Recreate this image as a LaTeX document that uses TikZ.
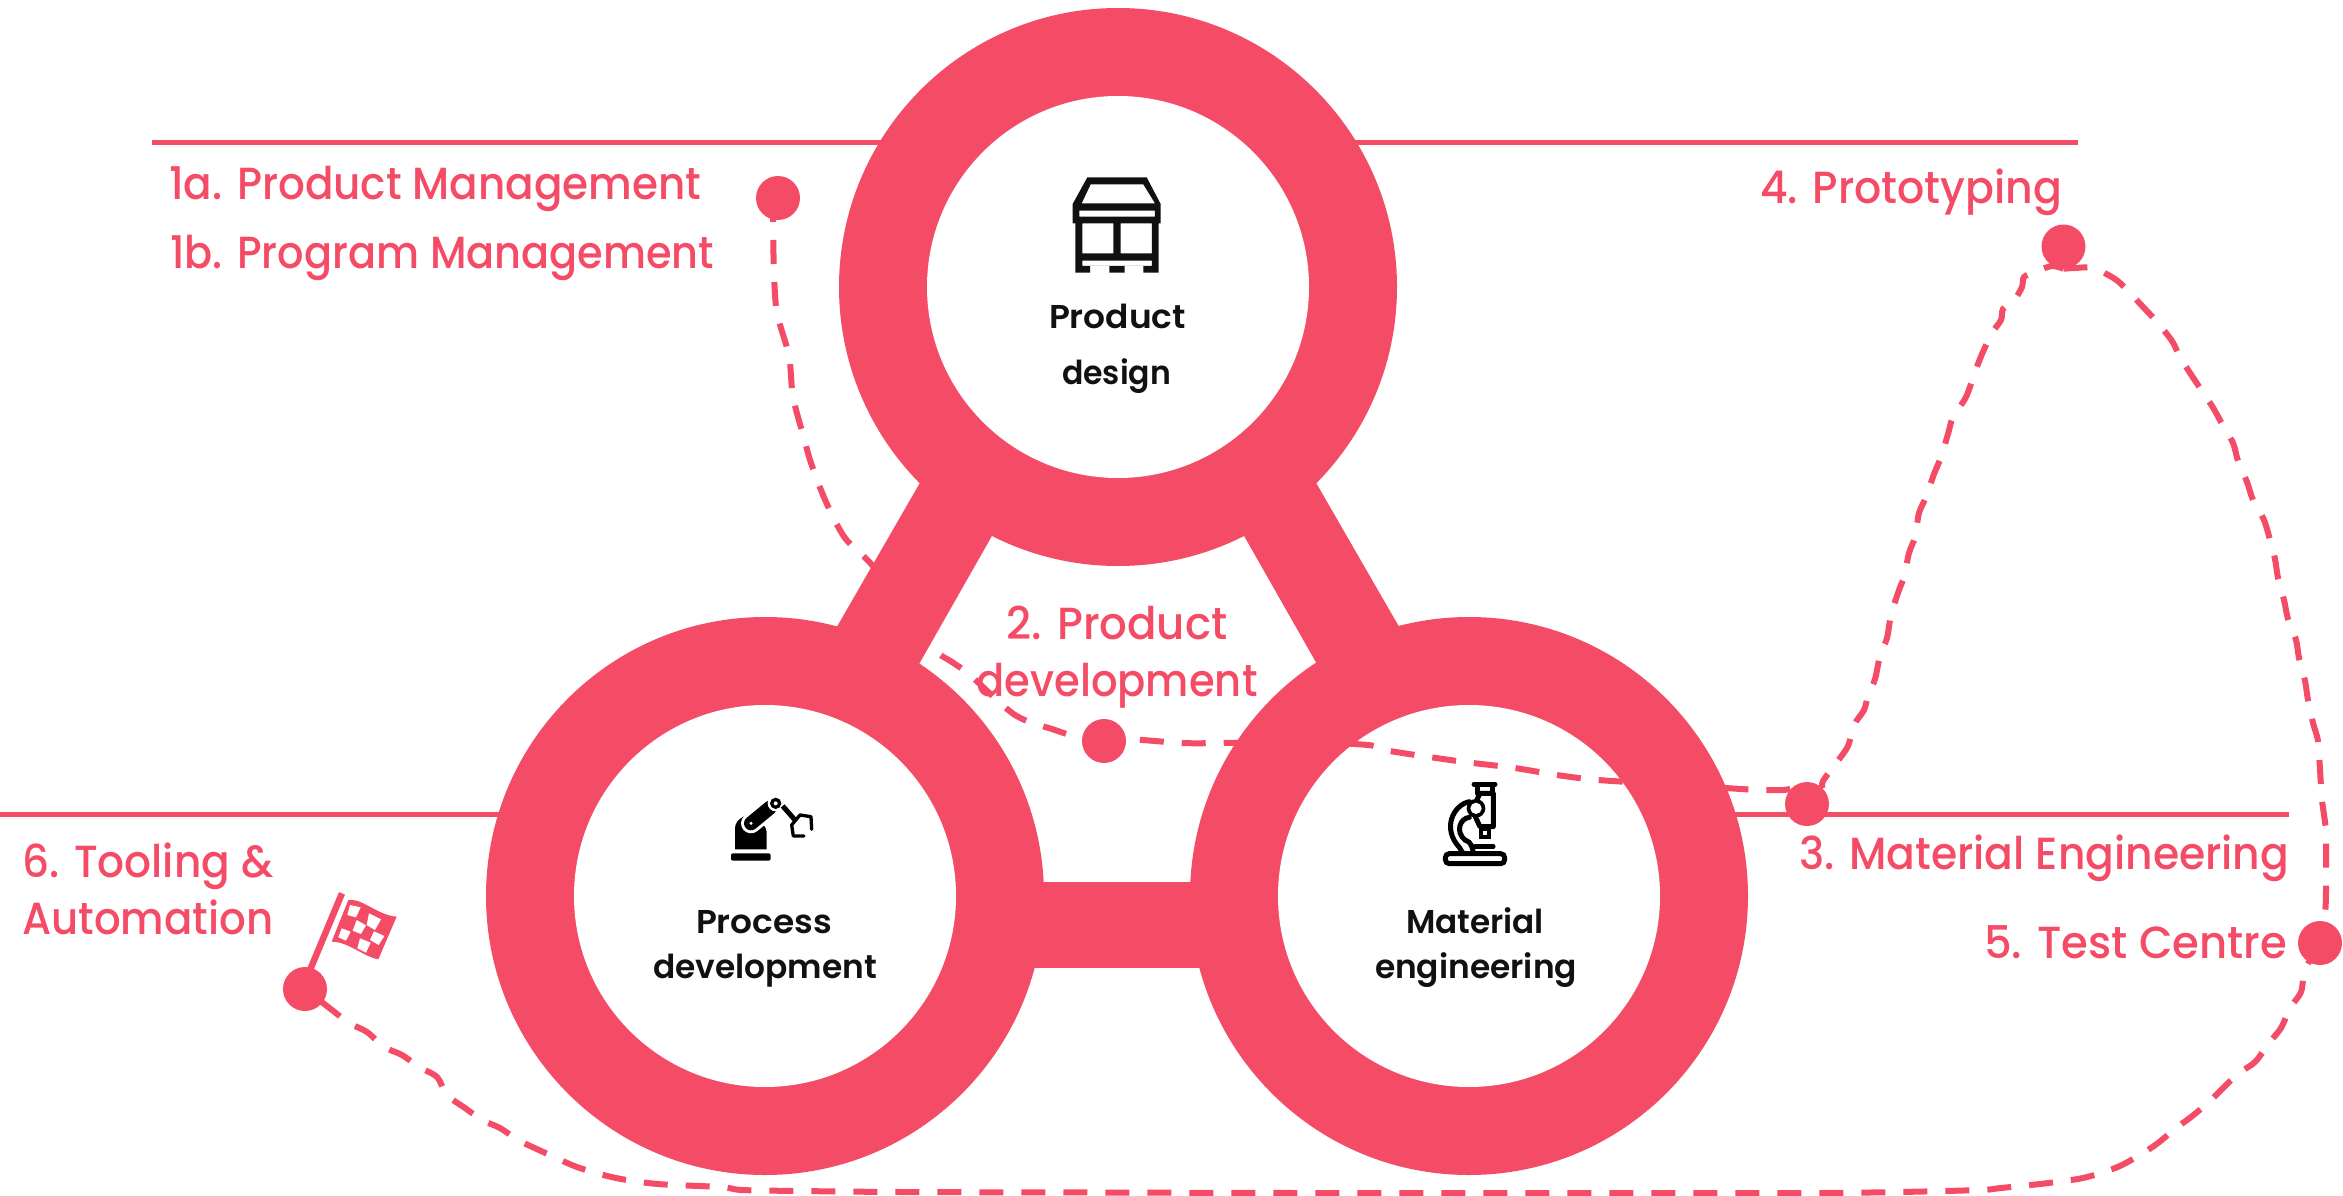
\documentclass[tikz,border=0pt]{standalone}
\usepackage{fontspec}
\usepackage{graphicx}
\setmainfont{Poppins Medium}
\newfontfamily\medf{Poppins SemiBold}
\definecolor{pk}{HTML}{F44C66}
\definecolor{ink}{HTML}{111111}
\newsavebox{\fitbox}
\newcommand\fitw[2]{\sbox{\fitbox}{#2}\pgfmathsetmacro\fitr{#1/\the\wd\fitbox}\scalebox{\fitr}[1]{\usebox{\fitbox}}}
\newcommand\lbl[1]{\fontsize{45}{45}\selectfont #1}
\newcommand\blk[1]{\fontsize{33}{33}\selectfont\medf #1}
\tikzset{
  ringo/.style={circle,fill=pk,minimum size=558pt,inner sep=0pt},
  ringi/.style={circle,fill=white,minimum size=382pt,inner sep=0pt},
  dotn/.style={circle,fill=pk,minimum size=44pt,inner sep=0pt},
  hline/.style={draw=pk,line width=5pt},
  dashp/.style={draw=pk,line width=6pt,dash pattern=on 24pt off 18pt},
  tl/.style={text=pk,inner sep=0pt,anchor=base west},
  tc/.style={text=pk,inner sep=0pt,anchor=base},
  tk/.style={text=ink,inner sep=0pt,anchor=base},
  ic/.style={shift={#1},x=0.3333pt,y=-0.3333pt},
}
\begin{document}
\begin{tikzpicture}[x=1pt,y=-1pt]
\useasboundingbox (0,0) rectangle (2343,1196);
\fill[white] (0,0) rectangle (2343,1196);
% rings (outer discs named first)
\node[ringo] (ot) at (1118,287) {};
\node[ringo] (ol) at (765,896) {};
\node[ringo] (or) at (1469,896) {};
% horizontal rules
\coordinate (a1) at (152,143); \coordinate (a2) at (2078,143);
\coordinate (b1) at (0,814); \coordinate (b2) at (2289,814);
\draw[hline] (a1) -- (a2);
\draw[hline] (b1) -- (b1 -| ol);
\draw[hline] (b1 -| or) -- (b2);
% bars
\fill[pk] (940,448) -- (827,644) -- (910,680) -- (1001,520) -- cycle;
\fill[pk] (1296,448) -- (1409,644) -- (1326,680) -- (1235,520) -- cycle;
\fill[pk] (950,881.5) rectangle (1290,968);
\node[ringi] (it) at (1118,287) {};
\node[ringi] (il) at (765,896) {};
\node[ringi] (ir) at (1469,896) {};
% store icon
\begin{scope}[ic={(1000pt,-140pt)},even odd rule]
\fill[ink] (262,112) -- (440,112) -- (482,192) -- (482,250) -- (476,250) -- (476,398) -- (430,398) -- (430,378) -- (374,378) -- (374,398) -- (328,398) -- (328,378) -- (270,378) -- (270,398) -- (226,398) -- (226,250) -- (218,250) -- (218,192) -- cycle
 (272,133) -- (430,133) -- (465,190) -- (245,190) -- cycle
 (238,212) rectangle (465,230)
 (247,250) rectangle (340,340)
 (362,250) rectangle (456,340)
 (247,362) rectangle (456,378);
\end{scope}
% robot icon
\begin{scope}[ic={(680pt,-760pt)}]
\fill[black,rounded corners=2pt] (153,302) -- (153,280) -- (272,280) -- (272,302) -- cycle;
\fill[black] (165,268) -- (165,205) .. controls (165,190) and (175,178) .. (190,170) -- (245,190) .. controls (255,200) and (260,205) .. (260,215) -- (260,268) -- cycle;
\draw[white,line width=20pt,line cap=round] (213,190) -- (270,143);
\draw[black,line width=14pt,line cap=round] (213,190) -- (270,143);
\fill[white] (287,130) circle (24);
\fill[black] (287,130) circle (17);
\fill[white] (287,130) circle (6);
\fill[white] (213,190) circle (5);
\draw[black,line width=5pt] (308,138) -- (345,180);
\draw[black,line width=3.3pt,line cap=round,line join=round] (395,208) -- (393,170) -- (360,165) -- (335,195) -- (340,228) -- (372,228);
\end{scope}
% microscope icon
\begin{scope}[ic={(1400pt,-760pt)}]
\draw[black,line width=5pt,line cap=round] (222,73) -- (285,73);
\draw[black,line width=4.5pt,line join=round] (232,80) -- (232,100) -- (277,100) -- (277,80);
\draw[black,line width=5pt,line cap=round] (208,125) .. controls (160,135) and (125,205) .. (178,262) -- (190,282);
\draw[black,line width=5pt,line cap=round] (208,172) .. controls (180,175) and (165,215) .. (195,240) .. controls (215,245) and (218,265) .. (220,282);
\draw[black,line width=5pt,line join=round,fill=white] (240,100) -- (280,100) -- (280,200) -- (240,200) -- (226,170) -- (226,130) -- cycle;
\fill[black] (228,145) circle (28);
\fill[white] (228,145) circle (17);
\draw[black,line width=4pt,fill=white] (244,207) rectangle (268,232);
\draw[black,line width=4.5pt,line cap=round] (225,260) -- (280,260);
\draw[black,line width=5pt,fill=white,rounded corners=4pt] (136,281) rectangle (314,311);
\end{scope}
% flag icon
\begin{scope}[ic={(260pt,-860pt)}]
\fill[pk] (265,120) .. controls (310,115) and (350,165) .. (410,170) -- (355,298) .. controls (310,290) and (265,245) .. (215,245) -- cycle;
\fill[white] (270,135) -- (302,142) -- (288,172) -- (262,165) -- cycle
 (327,160) -- (363,178) -- (345,210) -- (320,195) -- cycle
 (290,180) -- (318,196) -- (303,222) -- (278,212) -- cycle
 (342,214) -- (373,228) -- (356,255) -- (330,240) -- cycle
 (245,205) -- (272,215) -- (258,242) -- (235,232) -- cycle
 (300,235) -- (332,248) -- (318,278) -- (292,265) -- cycle;
\draw[pk,line width=6.5pt] (246,100) -- (150,330);
\end{scope}
% dots (named first so the paths can refer to them)
\node[dotn,fill=none] (d1) at (778,198) {};
\node[dotn,fill=none] (d2) at (1104,741) {};
\node[dotn,fill=none] (d3) at (1807,804) {};
\node[dotn,fill=none] (d4) at (2063.5,246.5) {};
\node[dotn,fill=none] (d5) at (2320,943) {};
\node[dotn,fill=none] (d6) at (305,989) {};
% route
\draw[dashp] plot[smooth,tension=0.5] coordinates {(773,198) (773,220) (774,273) (777,313) (789,356) (793,397) (804,438) (811,463) (826,502) (845,538) (872,565) (905,610) (935,650) (952,662) (970,675) (1015,715) (1055,730) (1080,738) (d2.center)};
\draw[dashp,dash phase=6pt] plot[smooth,tension=0.5] coordinates {(d2.center) (1127,739) (1182,743) (1223,743) (1300,742) (1368,745) (1390,751) (1450,760) (1473,763) (1515,768) (1557,775) (1598,780) (1680,785) (1741,789) (1766,790) (1784,790) (d3.north west)};
\draw[dashp,dash phase=8pt] plot[smooth,tension=0.5] coordinates {(d3.north east) (1823,781) (1837,762) (1848,746) (1854,725) (1864,710) (1868,696) (1875,679) (1880,656) (1887,638) (1891,615) (1899,590) (1904,577) (1909,553) (1915,537) (1919,513) (1926,497) (1934,474) (1941,457) (1948,434) (1953,417) (1966,397) (1975,372) (1982,354) (1992,333) (2001,320) (2003,309) (2013,302) (2022,287) (2024,277) (2037,271) (2052,266) (d4.south)};
\draw[dashp,dash phase=0pt] plot[smooth,tension=0.5] coordinates {(d4.south) (2075,268) (2093,268) (2115,279) (2128,291) (2145,309) (2157,322) (2172,341) (2180,357) (2192,376) (2212,406) (2221,422) (2233,443) (2238,461) (2247,482) (2253,500) (2264,520) (2270,540) (2275,559) (2278,578) (2284,600) (2288,619) (2296,640) (2299,658) (2305,681) (2308,700) (2313,723) (2318,741) (2320,770) (2322,800) (2326,831) (2326,860) (2326,892) (2325,913) (d5.center)};
\draw[dashp] plot[smooth,tension=0.5] coordinates {(d5.center) (2305,970) (2301,992) (2290,1008) (2281,1028) (2269,1043) (2255,1062) (2239,1073) (2223,1088) (2209,1102) (2191,1117) (2176,1128) (2158,1143) (2143,1153) (2122,1165) (2104,1172) (2083,1178) (2064,1181) (2040,1184) (2001,1188) (1980,1190) (1900,1192) (1821,1193) (1700,1193) (1500,1193) (1300,1193) (1100,1192.5) (900,1192) (800,1191) (742,1190) (721,1187) (658,1184) (616,1178) (577,1167) (539,1150) (518,1140) (500,1128) (482,1120) (465,1108) (447,1095) (437,1077) (419,1067) (402,1055) (384,1047) (367,1032) (349,1023) (332,1010) (d6.center)};
% dots
\foreach \n in {d1,d2,d3,d4,d5,d6} \fill[pk] (\n.center) circle (22pt);
% pink labels
\node[tl] (t1a) at (169,200) {\fitw{532}{\lbl{1a. Product Management}}};
\node[tl] (t1b) at (170,268) {\fitw{544}{\lbl{1b. Program Management}}};
\node[tl] (t4) at (1760,204) {\fitw{302}{\lbl{4. Prototyping}}};
\node[tc] (t2a) at (1117,639) {\fitw{221}{\lbl{2. Product}}};
\node[tc] (t2b) at (1117,696) {\fitw{281}{\lbl{development}}};
\node[tl] (t3) at (1799,869) {\fitw{490}{\lbl{3. Material Engineering}}};
\node[tl] (t5) at (1984,958) {\fitw{303}{\lbl{5. Test Centre}}};
\node[tl] (t6a) at (22,877) {\fitw{251}{\lbl{6. Tooling \&}}};
\node[tl] (t6b) at (22,934) {\fitw{251}{\lbl{Automation}}};
% black labels
\node[tk] (k1a) at (1117.5,328) {\fitw{137}{\blk{Product}}};
\node[tk] (k1b) at (1116.5,384) {\fitw{109}{\blk{design}}};
\node[tk] (k2a) at (764,933) {\fitw{136}{\blk{Process}}};
\node[tk] (k2b) at (765,978) {\fitw{224}{\blk{development}}};
\node[tk] (k3a) at (1475,933) {\fitw{138}{\blk{Material}}};
\node[tk] (k3b) at (1476,978) {\fitw{202}{\blk{engineering}}};
\end{tikzpicture}
\end{document}
